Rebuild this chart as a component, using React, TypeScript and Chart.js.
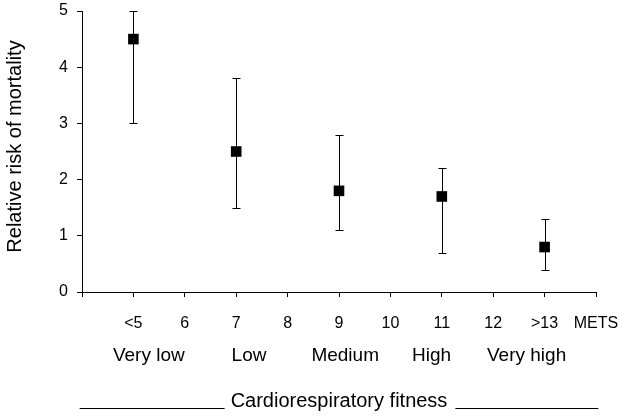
import React, { useEffect, useRef } from "react";
import { Chart, registerables } from "chart.js";

Chart.register(...registerables);

// ---- data ----
const metsTicks = ["", "<5", "6", "7", "8", "9", "10", "11", "12", ">13", "METS"];
const pointCategories = ["<5", "7", "9", "11", ">13"];
const relativeRisk = [4.5, 2.5, 1.8, 1.7, 0.8];
const ciLower = [3.0, 1.5, 1.1, 0.7, 0.4];
const ciUpper = [5.0, 3.8, 2.8, 2.2, 1.3];
const fitnessLevels = ["Very low", "Low", "Medium", "High", "Very high"];
const yAxisTitle = "Relative risk of mortality";
const xAxisTitle = "Cardiorespiratory fitness";

// ---- layout (positions of the fitness level captions, in x-axis units) ----
const LEVEL_CENTERS = [1.3, 3.25, 5.12, 6.8, 8.65];

const FONT = "'Liberation Sans', Arial, Helvetica, sans-serif";

const extrasPlugin = {
  id: "extras",
  beforeDatasetsDraw(chart: any) {
    const { ctx } = chart;
    const xs = chart.scales.x;
    const ys = chart.scales.y;
    ctx.save();
    ctx.strokeStyle = "#000";
    ctx.lineWidth = 1;
    pointCategories.forEach((cat, i) => {
      const px = Math.round(xs.getPixelForValue(metsTicks.indexOf(cat))) + 0.5;
      const yLo = Math.round(ys.getPixelForValue(ciLower[i])) + 0.5;
      const yHi = Math.round(ys.getPixelForValue(ciUpper[i])) + 0.5;
      ctx.beginPath();
      ctx.moveTo(px, yLo);
      ctx.lineTo(px, yHi);
      ctx.moveTo(px - 4, yLo);
      ctx.lineTo(px + 4, yLo);
      ctx.moveTo(px - 4, yHi);
      ctx.lineTo(px + 4, yHi);
      ctx.stroke();
    });
    ctx.restore();
  },
  afterDraw(chart: any) {
    const { ctx, chartArea } = chart;
    const xs = chart.scales.x;
    ctx.save();
    ctx.fillStyle = "#000";

    // y-axis title
    ctx.save();
    ctx.font = `20px ${FONT}`;
    ctx.textAlign = "center";
    ctx.textBaseline = "middle";
    ctx.translate(15, (chartArea.top + chartArea.bottom) / 2 - 5);
    ctx.rotate(-Math.PI / 2);
    ctx.fillText(yAxisTitle, 0, 0);
    ctx.restore();

    ctx.textAlign = "center";
    ctx.textBaseline = "alphabetic";
    ctx.font = `19px ${FONT}`;
    fitnessLevels.forEach((lvl, i) => {
      ctx.fillText(lvl, xs.getPixelForValue(LEVEL_CENTERS[i]), 361);
    });
    ctx.font = `20px ${FONT}`;
    const cx = xs.getPixelForValue(5);
    const baseY = 406.5;
    ctx.fillText(xAxisTitle, cx, baseY);
    const w = ctx.measureText(xAxisTitle).width;
    const left = cx - w / 2;
    const right = cx + w / 2;
    ctx.strokeStyle = "#000";
    ctx.lineWidth = 1;
    ctx.beginPath();
    ctx.moveTo(left - 6 - 145, 408.5);
    ctx.lineTo(left - 6, 408.5);
    ctx.moveTo(right + 8, 408.5);
    ctx.lineTo(right + 8 + 143, 408.5);
    ctx.stroke();
    ctx.restore();
  },
};

export default function App() {
  const canvasRef = useRef<HTMLCanvasElement | null>(null);

  useEffect(() => {
    if (!canvasRef.current) return;
    Chart.defaults.font.family = FONT;
    Chart.defaults.color = "#000";
    const chart = new Chart(canvasRef.current, {
      type: "scatter",
      data: {
        datasets: [
          {
            label: "Relative risk",
            data: pointCategories.map((c, i) => ({ x: metsTicks.indexOf(c), y: relativeRisk[i] })),
            pointStyle: "rect",
            pointRadius: 7.5,
            pointHoverRadius: 7.5,
            backgroundColor: "#000",
            borderColor: "#000",
            borderWidth: 0,
          },
        ],
      },
      options: {
        responsive: false,
        animation: false,
        events: [],
        layout: { padding: { top: 11, right: 31, left: 0, bottom: 0 } },
        plugins: {
          legend: { display: false },
          tooltip: { enabled: false },
        },
        scales: {
          x: {
            type: "linear",
            min: 0,
            max: 10,
            afterFit: (scale: any) => {
              scale.height = 125;
              scale.paddingLeft = 0;
              scale.paddingRight = 0;
            },
            afterBuildTicks: (scale: any) => {
              scale.ticks = metsTicks.map((_, i) => ({ value: i }));
            },
            ticks: {
              autoSkip: false,
              maxRotation: 0,
              minRotation: 0,
              padding: 17,
              color: "#000",
              font: { size: 16, family: FONT },
              callback: (v: any) => metsTicks[Number(v)] ?? "",
            },
            grid: {
              display: true,
              drawOnChartArea: false,
              drawTicks: true,
              tickLength: 5,
              color: "#000",
              lineWidth: 1,
            },
            border: { display: true, color: "#000", width: 1 },
          },
          y: {
            type: "linear",
            min: 0,
            max: 5,
            afterFit: (scale: any) => {
              scale.width = 82;
              scale.paddingTop = 0;
              scale.paddingBottom = 0;
            },
            ticks: {
              stepSize: 1,
              padding: 9,
              color: "#000",
              font: { size: 16, family: FONT },
            },
            grid: {
              display: true,
              drawOnChartArea: false,
              drawTicks: true,
              tickLength: 5,
              color: "#000",
              lineWidth: 1,
            },
            border: { display: true, color: "#000", width: 1 },
            title: { display: false },
          },
        },
      },
      plugins: [extrasPlugin],
    });
    return () => chart.destroy();
  }, []);

  return (
    <div style={{ position: "absolute", left: 0, top: 0, width: 627, height: 417, background: "#fff" }}>
      <canvas ref={canvasRef} width={627} height={417} style={{ display: "block" }} />
    </div>
  );
}
